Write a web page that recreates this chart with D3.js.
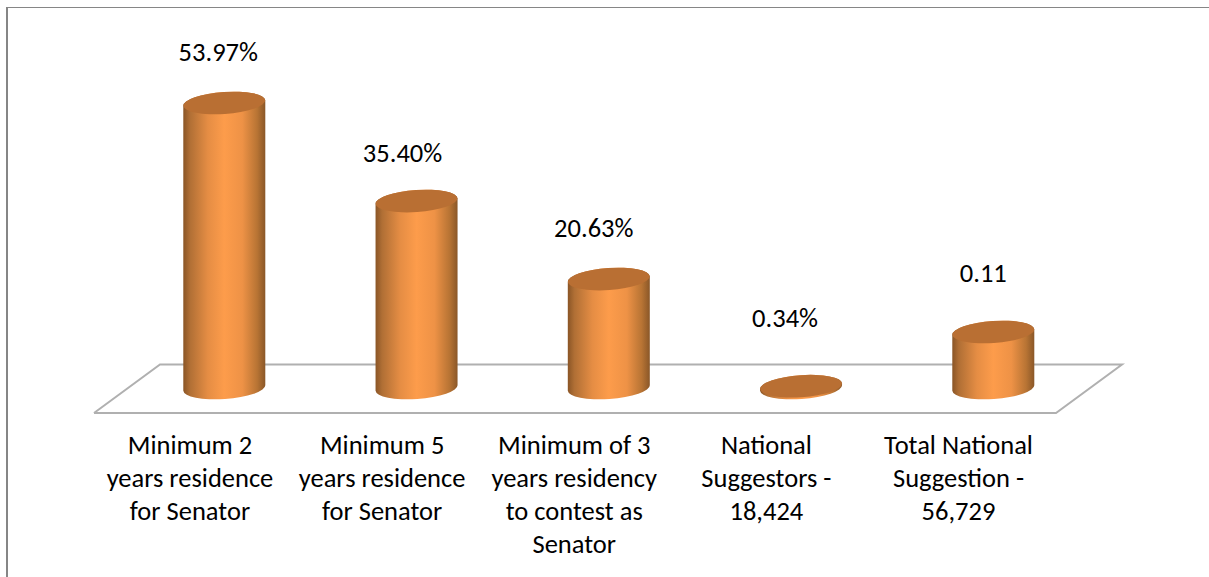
<!DOCTYPE html>
<html><head><meta charset="utf-8">
<script src="https://cdn.jsdelivr.net/npm/d3@7"></script>
<style>html,body{margin:0;padding:0;background:#fff}svg{display:block}text{font-family:Carlito,Lato,sans-serif;fill:#000}</style>
</head><body><svg id="c" width="1209" height="577"></svg>
<script>
const categories = ["Minimum 2 years residence for Senator","Minimum 5 years residence for Senator","Minimum of 3 years residency to contest as Senator","National Suggestors - 18,424","Total National Suggestion - 56,729"];
const categoryLines = [["Minimum 2","years residence","for Senator"],["Minimum 5","years residence","for Senator"],["Minimum of 3","years residency","to contest as","Senator"],["National","Suggestors -","18,424"],["Total National","Suggestion -","56,729"]];
const values = [53.97,35.40,20.63,0.34,10.6];
const valueLabels = ["53.97%","35.40%","20.63%","0.34%","0.11"];

const svg = d3.select("#c");
const x = d3.scalePoint().domain(categories).range([224.3,993.3]);
const xLabel = d3.scalePoint().domain(categories).range([190,958.5]);
const y = d3.scaleLinear().domain([0,53.97]).range([388,103]);
const rx = 41, ry = 11, tilt = -4, fs = 26.5;
// nudges that place each value label in the 3D projection of the original
const labelDx = [-6,-14,-15,-16,-10], labelDy = [-42,-39,-42,-59,-50];

const defs = svg.append("defs");
const grad = defs.append("linearGradient").attr("id","cyl");
[[0,"#8a5526"],[0.08,"#b06f35"],[0.3,"#e58d44"],[0.5,"#fd9c4b"],[0.72,"#ee9246"],[0.9,"#b87434"],[1,"#8a5728"]]
  .forEach(s=>grad.append("stop").attr("offset",s[0]).attr("stop-color",s[1]));

svg.append("path").attr("d","M7,577V7").attr("fill","none").attr("stroke","#868686").attr("stroke-width",2);
svg.append("path").attr("d","M6,7.5H1209").attr("fill","none").attr("stroke","#868686").attr("stroke-width",1.2);

const floor = d3.line();
svg.append("path").attr("d",floor([[94,413],[160,364.5],[1122,364.5],[1056,413],[94,413]]))
  .attr("fill","none").attr("stroke","#b0b0b0").attr("stroke-width",2);

const dy = rx*Math.sin(-tilt*Math.PI/180);
const bars = svg.append("g").selectAll("g").data(categories).join("g");
bars.each(function(c,i){
  const g = d3.select(this), cx = x(c), yt = y(values[i]), yb = y(0);
  g.append("path").attr("fill","url(#cyl)")
   .attr("d",`M${cx-rx},${yt+dy}A${rx},${ry} ${tilt} 0 1 ${cx+rx},${yt-dy}L${cx+rx},${yb-dy}A${rx},${ry} ${tilt} 0 1 ${cx-rx},${yb+dy}Z`);
  g.append("ellipse").attr("rx",rx).attr("ry",ry).attr("fill","#b96f33")
   .attr("transform",`translate(${cx},${yt}) rotate(${tilt})`);
  g.append("text").attr("x",cx+labelDx[i]).attr("y",yt+labelDy[i]).attr("text-anchor","middle").attr("font-size",fs).text(valueLabels[i]);
  categoryLines[i].forEach((l,k)=>g.append("text").attr("x",xLabel(c)).attr("y",453.5+k*33).attr("text-anchor","middle").attr("font-size",fs).text(l));
});
</script></body></html>
